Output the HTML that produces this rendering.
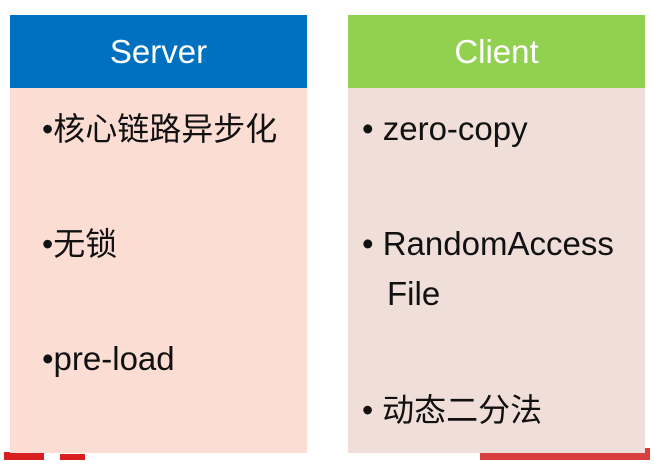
<!DOCTYPE html>
<html><head><meta charset="utf-8"><style>
body{margin:0;width:654px;height:472px;background:#fff;position:relative;overflow:hidden;font-family:"Liberation Sans","Noto Sans CJK SC",sans-serif;}
.box{position:absolute;top:15px;width:297px;height:438px;}
.hd{height:73px;color:#fff;font-size:33px;text-align:center;line-height:73px;}
.bd{height:365px;}
.t{position:absolute;font-size:33px;color:#111;white-space:nowrap;line-height:38px;}
.c{font-size:32px;}
.red{position:absolute;background:#d81e1e;}
</style></head><body>
<div class="red" style="left:4px;top:452px;width:40px;height:8px"></div>
<div class="red" style="left:60px;top:454px;width:25px;height:6px"></div>
<div class="red" style="left:480px;top:448px;width:170px;height:12px;background:#d84040"></div>
<div class="box" style="left:10px"><div class="hd" style="background:#0070c0">Server</div><div class="bd" style="background:#fcddd3"></div></div>
<div class="box" style="left:348px"><div class="hd" style="background:#92d050">Client</div><div class="bd" style="background:#efdfd8"></div></div>
<div class="t c" style="left:42px;top:110px">•核心链路异步化</div>
<div class="t c" style="left:42px;top:225px">•无锁</div>
<div class="t" style="left:42px;top:340px">•pre-load</div>
<div class="t" style="left:362px;top:110px">• zero-copy</div>
<div class="t" style="left:362px;top:225px">• RandomAccess</div>
<div class="t" style="left:387px;top:275px">File</div>
<div class="t c" style="left:362px;top:391px">• 动态二分法</div>
</body></html>
